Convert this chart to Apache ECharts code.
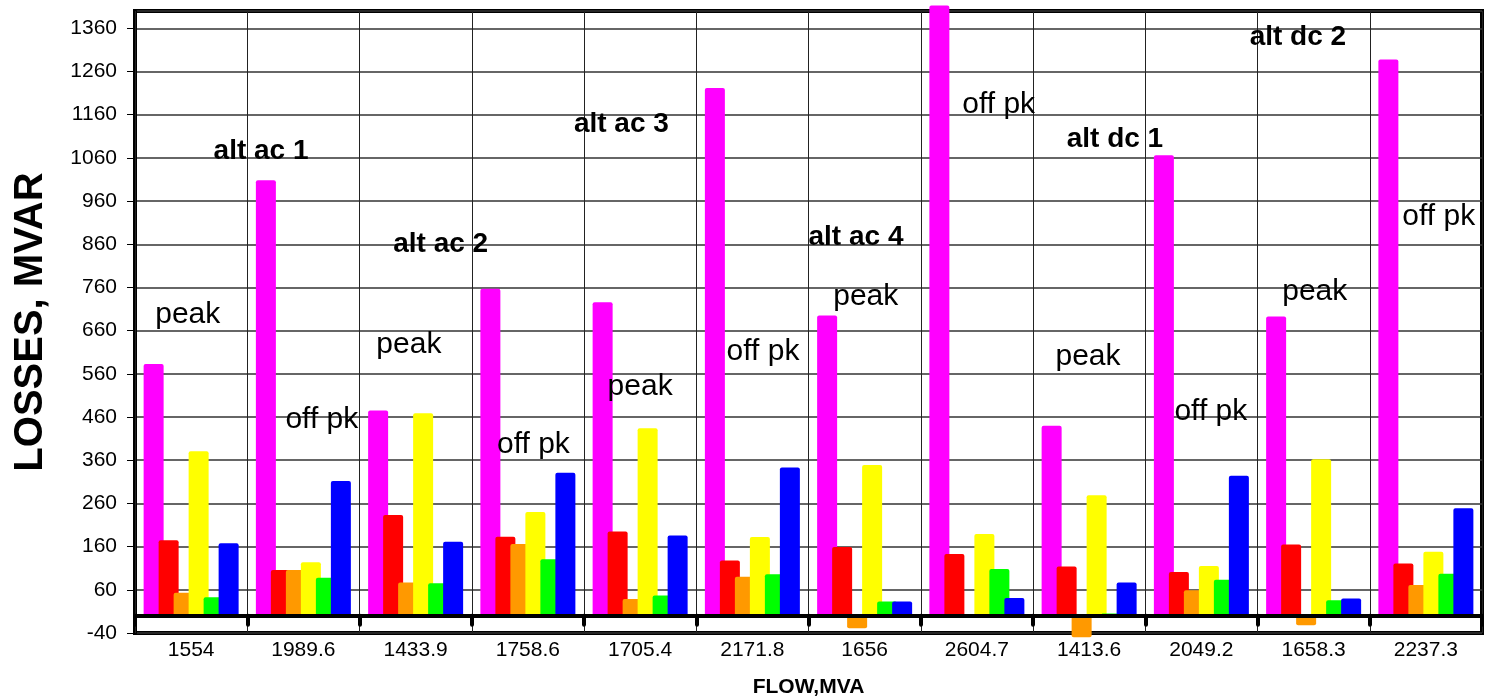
<!DOCTYPE html>
<html><head><meta charset="utf-8">
<script src="https://cdn.jsdelivr.net/npm/echarts@6/dist/echarts.min.js"></script>
<style>html,body{margin:0;padding:0;background:#fff}#c{width:1486px;height:699px}</style>
</head><body><div id="c"></div>
<script>
const categories = ['1554','1989.6','1433.9','1758.6','1705.4','2171.8','1656','2604.7','1413.6','2049.2','1658.3','2237.3'];
const magentaValues = [583,1008,475,757,726,1222,695,1413,440,1066,693,1288];
const redValues     = [175,106,233,183,195,128,159,143,114,101,165,121];
const orangeValues  = [53,106,77,166,39,90,-29,0,-50,59,-22,71];
const yellowValues  = [381,124,469,240,434,182,349,189,279,115,362,148];
const greenValues   = [43,88,75,131,47,96,33,108,5,83,36,97];
const blueValues    = [168,312,171,331,186,343,33,41,77,324,40,249];
// annotation texts: [text, category index, value at text middle, bold]
const annotationTexts = [
  ['peak',0,697,false],['alt ac 1',1,1075,true],['off pk',1,453,false],
  ['peak',2,627,false],['alt ac 2',2,859,true],['off pk',3,396,false],
  ['alt ac 3',4,1137,true],['peak',4,530,false],['off pk',5,611,false],
  ['alt ac 4',6,876,true],['peak',6,739,false],['off pk',7,1184,false],
  ['alt dc 1',8,1103,true],['peak',8,600,false],['off pk',9,472,false],
  ['peak',10,750,false],['alt dc 2',10,1339,true],['off pk',11,924,false]
];
// horizontal offset of each annotation's left edge, in category widths from the category centre
const annotationDx = [-0.32,-0.80,-0.16,-0.35,-0.20,-0.275,-0.59,-0.29,-0.23,-0.50,-0.28,-0.13,-0.20,-0.30,-0.24,-0.28,-0.57,-0.21];

const FONT = "'Liberation Sans', Arial, sans-serif";
const chart = echarts.init(document.getElementById('c'), null, {renderer:'canvas'});
function bar(name, data, color){
  return {name, type:'bar', data, barWidth:20, barGap:'-25%', clip:false,
    itemStyle:{color, borderRadius:2}, z:2};
}
chart.setOption({
  animation:false,
  backgroundColor:'#fff',
  grid:{left:135,right:4,top:11,bottom:66,show:true,borderColor:'#000',borderWidth:4,
    backgroundColor:'transparent',containLabel:false,outerBoundsMode:'none'},
  xAxis:{type:'category',data:categories,z:5,
    axisLine:{onZero:true,lineStyle:{color:'#000',width:4}},
    axisTick:{show:true,length:9,lineStyle:{color:'#000',width:4,cap:'round'}},
    axisLabel:{color:'#000',fontSize:21,fontFamily:FONT,margin:7},
    splitLine:{show:true,lineStyle:{color:'#222',width:1}},
    name:'FLOW,MVA',nameLocation:'middle',nameGap:44,nameMoveOverlap:false,
    nameTextStyle:{color:'#000',fontSize:21,fontWeight:'bold',fontFamily:FONT}},
  yAxis:{type:'value',min:-40,max:1400,interval:100,z:1,
    axisLine:{show:true,lineStyle:{color:'#000',width:4}},
    axisTick:{show:true,length:8,lineStyle:{color:'#000',width:1}},
    axisLabel:{color:'#000',fontSize:21,fontFamily:FONT,margin:18,showMaxLabel:false,
      formatter:v=>String(v)},
    splitLine:{show:true,lineStyle:{color:'#333',width:1.5}},
    name:'LOSSES, MVAR',nameLocation:'middle',nameGap:84,
    nameTextStyle:{color:'#000',fontSize:40,fontWeight:'bold',fontFamily:FONT}},
  series:[
    bar('s1',magentaValues,'#FF00FF'),
    bar('s2',redValues,'#FF0000'),
    bar('s3',orangeValues,'#FF9900'),
    bar('s4',yellowValues,'#FFFF00'),
    bar('s5',greenValues,'#00FF00'),
    bar('s6',blueValues,'#0000FF')
  ]
});
const band = chart.convertToPixel({gridIndex:0},[1,0])[0] - chart.convertToPixel({gridIndex:0},[0,0])[0];
chart.setOption({
  graphic: annotationTexts.map((a,i)=>{
    const p = chart.convertToPixel({gridIndex:0},[a[1],a[2]]);
    return {type:'text', x:p[0]+annotationDx[i]*band, y:p[1], z:20,
      style:{text:a[0], fill:'#000', fontFamily:FONT,
        fontSize:a[3]?28:30, fontWeight:a[3]?'bold':'normal',
        align:'left', verticalAlign:'middle'}};
  })
});
</script></body></html>
